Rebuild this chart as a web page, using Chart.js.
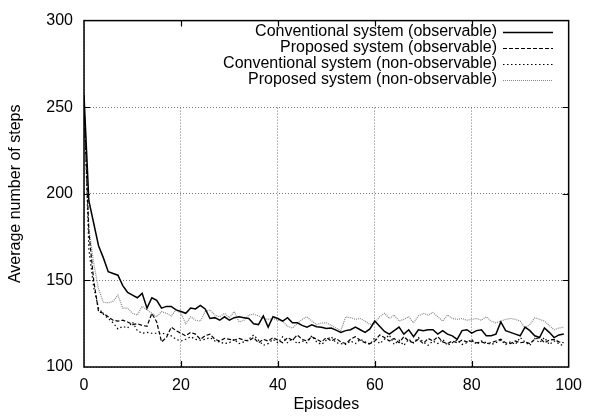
<!DOCTYPE html>
<html>
<head>
<meta charset="utf-8">
<script src="https://cdn.jsdelivr.net/npm/chart.js@4.4.1/dist/chart.umd.min.js"></script>
<style>
html, body { margin: 0; padding: 0; background: #fff; }
#wrap { width: 591px; height: 420px; }
</style>
</head>
<body>
<div id="wrap"><canvas id="stepsChart"></canvas></div>
<script>
// episode index 0..99
const episodes = Array.from({ length: 100 }, (_, i) => i);

const seriesNames = [
    'Conventional system (observable)',
    'Proposed system (observable)',
    'Conventional system (non-observable)',
    'Proposed system (non-observable)'
];

// values
const convObs = [257, 196, 183, 170, 163, 155, 154, 153, 147, 143,
    141.5, 140, 142.5, 134, 140, 138.5, 134, 135, 135, 133,
    132, 131, 134, 133.5, 135.5, 133.5, 128, 128.5, 127, 129,
    127, 128.5, 129, 128.5, 128, 125, 124.5, 129.5, 123, 129,
    128, 126.5, 128.5, 125.5, 125.5, 124, 123, 124.3, 123.3, 123,
    122.3, 122.5, 121.3, 120, 121, 121.5, 123, 121.5, 120, 122,
    126.5, 123.5, 120.5, 119, 121, 123, 119, 121.5, 117.5, 121.5,
    121, 121.5, 121.5, 119, 121, 119, 118, 116, 121, 121.5,
    119.5, 121, 121.5, 118, 118, 119, 126, 121, 120, 119,
    118, 123, 121, 118, 117, 122.5, 120, 117, 118.5, 119];

const propObs = [252, 178, 150, 132, 131, 129, 127, 126.5, 127, 126,
    124.5, 125, 124, 123.5, 131, 126, 114.5, 117, 123, 121,
    119.5, 118, 120, 119, 116, 118, 119, 116, 115, 116.5,
    116, 115.5, 116.5, 115.5, 115, 117, 114, 116, 115, 117,
    115.5, 114, 117, 115.5, 118.5, 116, 115, 117.5, 116, 114.5,
    117, 115, 116.5, 114.5, 113.5, 116, 117.5, 115.5, 114, 113.5,
    115, 118.5, 117, 115, 116.5, 114, 117.5, 115, 114, 116,
    113.5, 116.5, 115, 117.5, 114.5, 113.5, 115, 114, 115.5, 114.5,
    115, 114, 114.5, 113.5, 114, 115, 116, 114, 113.5, 115,
    114, 114.5, 113.5, 116, 117, 114, 115.5, 116, 114.5, 114];

const convNonObs = [254, 168, 146, 134, 130.5, 128, 125.5, 122, 123.5, 122.5,
    126, 121, 119.5, 120, 119.5, 119.5, 119.5, 119, 118, 116,
    115, 116, 117.5, 116, 115.5, 116, 117, 115, 114.5, 113.5,
    114, 116, 113.5, 114.5, 116, 118.5, 115.5, 112.5, 113.5, 116,
    114, 117.5, 114, 116.5, 113.5, 115, 114, 118, 114.5, 113,
    115.5, 117.5, 114, 113.5, 113, 115, 113.5, 116, 114.5, 113,
    117, 113.5, 116, 118.5, 113, 115.5, 112.5, 116, 114, 117,
    114.5, 112.5, 115, 113.5, 116, 112.5, 114, 115.5, 113, 114,
    116, 113, 115, 114, 113, 114, 115.5, 113, 114.5, 113,
    117, 114.5, 112.5, 116.5, 114, 117, 113, 115, 113.5, 112];

const propNonObs = [250, 180, 160, 145, 137.5, 137, 138, 141.5, 134, 134,
    131, 130, 135, 133, 131, 129, 132, 131, 129.5, 133,
    131, 125, 129, 127, 126.5, 132, 133, 130, 129, 131,
    128.5, 132, 126, 127, 130, 130.5, 129.5, 128, 127.5, 128,
    127, 126.5, 123.5, 122.5, 125, 127.5, 129, 126.5, 124.5, 125.5,
    125.5, 124, 122.5, 121, 129, 128.5, 127.5, 128, 126.5, 124.5,
    125.5, 129, 131, 128, 130, 126.5, 127.5, 129, 125.5, 129.5,
    131, 130, 131.5, 129, 126.5, 130, 128, 127.5, 128, 127,
    127.5, 128, 127, 129, 126.5, 125.5, 126.5, 127.5, 128, 127.5,
    126.5, 122.5, 124.5, 128.5, 127.5, 126.5, 124, 121.5, 122.5, 123];

const xTicks = [0, 20, 40, 60, 80, 100];
const yTicks = [100, 150, 200, 250, 300];

const FONT = "'Liberation Sans', Arial, Helvetica, sans-serif";
Chart.defaults.font.family = FONT;
Chart.defaults.font.size = 16;
Chart.defaults.color = '#000';

const lineStyles = [
    { color: '#000', width: 1.5, dash: [] },
    { color: '#000', width: 1.2, dash: [4, 2] },
    { color: '#000', width: 1.2, dash: [1.5, 2.5] },
    { color: '#888', width: 1.2, dash: [1, 1] }
];

const allSeries = [convObs, propObs, convNonObs, propNonObs];

const datasets = allSeries.map(function(values, i) {
    return {
        label: seriesNames[i],
        data: values.map((v, j) => ({ x: episodes[j], y: v })),
        borderColor: lineStyles[i].color,
        borderWidth: lineStyles[i].width,
        borderDash: lineStyles[i].dash,
        pointRadius: 0,
        tension: 0,
        fill: false
    };
});

// white key box, frame, inner ticks, axis titles, legend
const framePlugin = {
    id: 'frame',
    beforeDatasetsDraw(chart) {
        const a = chart.chartArea;
        const ctx = chart.ctx;
        ctx.save();
        ctx.fillStyle = '#fff';
        ctx.fillRect(a.left + 1, a.top + 1, a.right - a.left - 2, 84);
        ctx.restore();
    },
    afterDraw(chart) {
        const a = chart.chartArea;
        const ctx = chart.ctx;
        const xs = chart.scales.x, ys = chart.scales.y;
        ctx.save();
        ctx.strokeStyle = '#000';
        ctx.lineWidth = 1.5;
        ctx.setLineDash([]);
        ctx.strokeRect(a.left, a.top, a.right - a.left, a.bottom - a.top);

        ctx.lineWidth = 1.2;
        ctx.beginPath();
        xTicks.slice(1, -1).forEach(function(v) {
            const px = Math.round(xs.getPixelForValue(v)) + 0.5;
            ctx.moveTo(px, a.bottom); ctx.lineTo(px, a.bottom - 6);
            ctx.moveTo(px, a.top); ctx.lineTo(px, a.top + 6);
        });
        yTicks.slice(1, -1).forEach(function(v) {
            const py = Math.round(ys.getPixelForValue(v)) + 0.5;
            ctx.moveTo(a.left, py); ctx.lineTo(a.left + 6, py);
            ctx.moveTo(a.right, py); ctx.lineTo(a.right - 6, py);
        });
        ctx.stroke();

        // axis titles
        ctx.fillStyle = '#000';
        ctx.font = '16px ' + FONT;
        ctx.textAlign = 'center';
        ctx.textBaseline = 'middle';
        ctx.fillText('Episodes', (a.left + a.right) / 2, 405);
        ctx.save();
        ctx.translate(16, (a.top + a.bottom) / 2);
        ctx.rotate(-Math.PI / 2);
        ctx.fillText('Average number of steps', 0, 0);
        ctx.restore();

        // key
        ctx.textAlign = 'right';
        chart.data.datasets.forEach(function(ds, i) {
            const y = 32 + i * 16;
            ctx.fillStyle = '#000';
            ctx.fillText(ds.label, 497, y);
            ctx.strokeStyle = ds.borderColor;
            ctx.lineWidth = ds.borderWidth;
            ctx.setLineDash(ds.borderDash);
            ctx.beginPath();
            ctx.moveTo(503, y + 0.5);
            ctx.lineTo(553, y + 0.5);
            ctx.stroke();
        });
        ctx.restore();
    }
};

new Chart(document.getElementById('stepsChart').getContext('2d'), {
    type: 'line',
    data: { datasets: datasets },
    options: {
        responsive: true,
        maintainAspectRatio: false,
        animation: false,
        layout: { padding: { left: 0, right: 15, top: 14, bottom: 0 } },
        plugins: {
            legend: { display: false },
            tooltip: { enabled: false }
        },
        scales: {
            x: {
                type: 'linear',
                min: 0,
                max: 100,
                afterBuildTicks: function(s) { s.ticks = xTicks.map(v => ({ value: v })); },
                afterFit: function(s) { s.height = 53; },
                grid: { color: '#777', lineWidth: 1, drawTicks: false },
                border: { display: false, dash: [1, 2] },
                ticks: { padding: 9, maxRotation: 0 }
            },
            y: {
                min: 100,
                max: 300,
                afterBuildTicks: function(s) { s.ticks = yTicks.map(v => ({ value: v })); },
                afterFit: function(s) { s.width = 84; },
                grid: { color: '#777', lineWidth: 1, drawTicks: false },
                border: { display: false, dash: [1, 2] },
                ticks: { padding: 11 }
            }
        }
    },
    plugins: [framePlugin]
});
</script>
</body>
</html>
